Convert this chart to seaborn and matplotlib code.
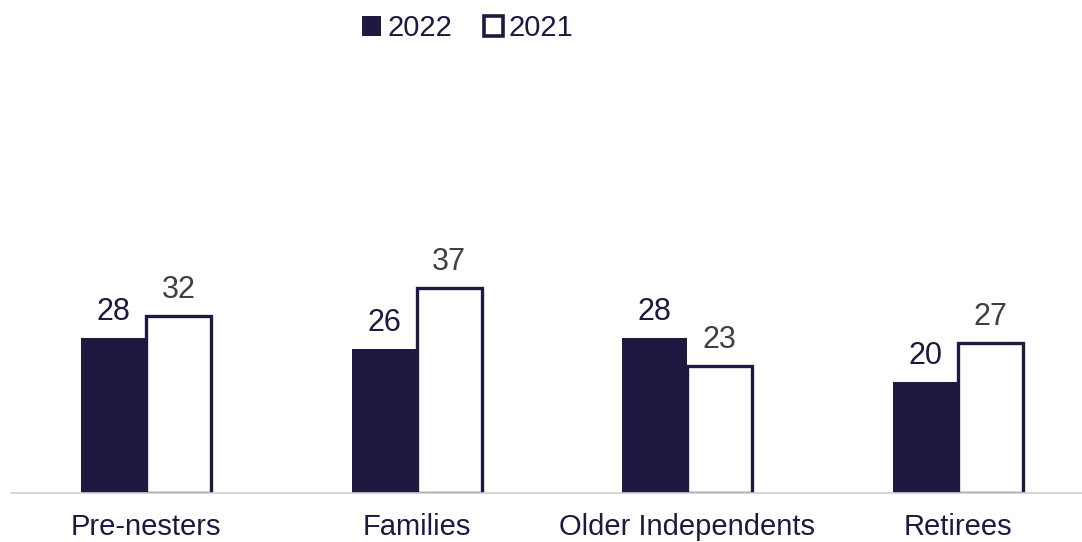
import matplotlib
matplotlib.use("Agg")
import matplotlib.pyplot as plt
from matplotlib.patches import Patch
import seaborn as sns
import pandas as pd

categories = ["Pre-nesters", "Families", "Older Independents", "Retirees"]
values_2022 = [28, 26, 28, 20]
values_2021 = [32, 37, 23, 27]
series = ["2022", "2021"]

NAVY = "#1F1840"
GREY_TEXT = "#404040"

df = pd.DataFrame({
    "segment": categories * 2,
    "year": [series[0]] * len(categories) + [series[1]] * len(categories),
    "value": values_2022 + values_2021,
})

sns.set_theme(style="white")
plt.rcParams["font.family"] = ["Liberation Sans", "DejaVu Sans"]

fig = plt.figure(figsize=(10.82, 5.42), dpi=100)
ax = fig.add_axes([10.5 / 1082, 49 / 542, 1 - 10.5 / 1082, 443 / 542])

sns.barplot(data=df, x="segment", y="value", hue="year", order=categories,
            hue_order=series, width=0.48, ax=ax, legend=False,
            palette=[NAVY, "white"], saturation=1)

styles = [
    dict(face=NAVY, edge=NAVY, lw=0, label_color=NAVY),
    dict(face="white", edge=NAVY, lw=2.4, label_color=GREY_TEXT),
]
for cont, st in zip(ax.containers, styles):
    for bar in cont:
        bar.set_facecolor(st["face"])
        bar.set_edgecolor(st["edge"])
        bar.set_linewidth(st["lw"])
        bar.set_joinstyle("miter")
    ax.bar_label(cont, fmt="%d", padding=8, fontsize=22, color=st["label_color"])

ax.set_ylim(0, 80)
ax.set_xlim(-0.5, 3.5 - 11.5 / 271)
ax.set_xlabel("")
ax.set_ylabel("")
ax.set_yticks([])
ax.tick_params(axis="x", length=0, pad=14.5, labelsize=21, labelcolor=NAVY)
for side in ["top", "left", "right"]:
    ax.spines[side].set_visible(False)
ax.spines["bottom"].set_color("#D0D0D0")
ax.spines["bottom"].set_linewidth(1.2)
ax.set_facecolor("white")

handles = [
    Patch(facecolor=NAVY, edgecolor=NAVY, linewidth=0),
    Patch(facecolor="white", edgecolor=NAVY, linewidth=2.6),
]
fig.legend(handles, series, loc="upper center", bbox_to_anchor=(468 / 1082, 1.022),
           ncol=2, frameon=False, fontsize=21, handlelength=0.65, handleheight=0.65,
           handletextpad=0.2, columnspacing=1.1, labelcolor=NAVY)

fig.savefig("out.png", dpi=100, facecolor="white")
